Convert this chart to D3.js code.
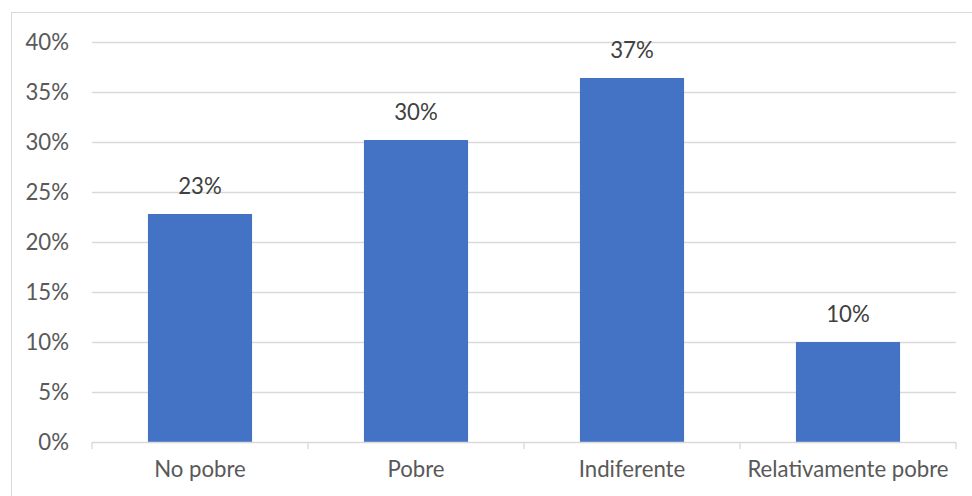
<!DOCTYPE html>
<html><head><meta charset="utf-8">
<script src="https://cdn.jsdelivr.net/npm/d3@7"></script>
<style>body{margin:0;background:#fff}svg{display:block}text{font-family:Lato,"Noto Sans",sans-serif}</style>
</head><body>
<svg id="c" width="972" height="496"></svg>
<script>
const categories = ["No pobre", "Pobre", "Indiferente", "Relativamente pobre"];
const values = [0.228, 0.302, 0.364, 0.100];
const valueLabels = ["23%", "30%", "37%", "10%"];
const yTicks = [0, 0.05, 0.10, 0.15, 0.20, 0.25, 0.30, 0.35, 0.40];

const svg = d3.select("#c");
const m = {left: 92, right: 956, top: 42, bottom: 442};
const fs = 22.2;

svg.append("rect").attr("x", 11.5).attr("y", 12.5).attr("width", 1000).attr("height", 1000)
  .attr("fill", "#fff").attr("stroke", "#d9d9d9").attr("stroke-width", 1);

const y = d3.scaleLinear().domain([0, 0.4]).range([m.bottom, m.top]);
const x = d3.scaleBand().domain(categories).range([m.left, m.right]).padding(0);
const barW = x.bandwidth() * 0.482;

// gridlines
svg.append("g").selectAll("line").data(yTicks.filter(t => t > 0)).join("line")
  .attr("x1", m.left).attr("x2", m.right)
  .attr("y1", d => Math.round(y(d)) + 0.5).attr("y2", d => Math.round(y(d)) + 0.5)
  .attr("stroke", "#d9d9d9").attr("stroke-width", 1.3);

// y labels
svg.append("g").selectAll("text").data(yTicks).join("text")
  .attr("x", 69).attr("y", d => y(d) + 7.8).attr("text-anchor", "end")
  .attr("font-size", fs).attr("fill", "#595959")
  .text(d => d3.format(".0%")(d));

// bars
svg.append("g").selectAll("rect").data(values).join("rect")
  .attr("x", (d, i) => x(categories[i]) + (x.bandwidth() - barW) / 2)
  .attr("width", barW)
  .attr("y", d => y(d))
  .attr("height", d => y(0) - y(d))
  .attr("fill", "#4472C4");

// x axis line
svg.append("line").attr("x1", m.left).attr("x2", m.right)
  .attr("y1", m.bottom + 0.5).attr("y2", m.bottom + 0.5)
  .attr("stroke", "#d9d9d9").attr("stroke-width", 1.3);
const bounds = categories.map(c => x(c)).concat([m.right]);
svg.append("g").selectAll("line").data(bounds).join("line")
  .attr("x1", d => d).attr("x2", d => d)
  .attr("y1", m.bottom).attr("y2", m.bottom + 7)
  .attr("stroke", "#d9d9d9").attr("stroke-width", 1.3);

// x labels
svg.append("g").selectAll("text").data(categories).join("text")
  .attr("x", d => x(d) + x.bandwidth() / 2).attr("y", 477)
  .attr("text-anchor", "middle").attr("font-size", fs).attr("fill", "#595959")
  .text(d => d);

// value labels
svg.append("g").selectAll("text").data(values).join("text")
  .attr("x", (d, i) => x(categories[i]) + x.bandwidth() / 2)
  .attr("y", d => y(d) - 20)
  .attr("text-anchor", "middle").attr("font-size", fs).attr("fill", "#404040")
  .text((d, i) => valueLabels[i]);
</script>
</body></html>
